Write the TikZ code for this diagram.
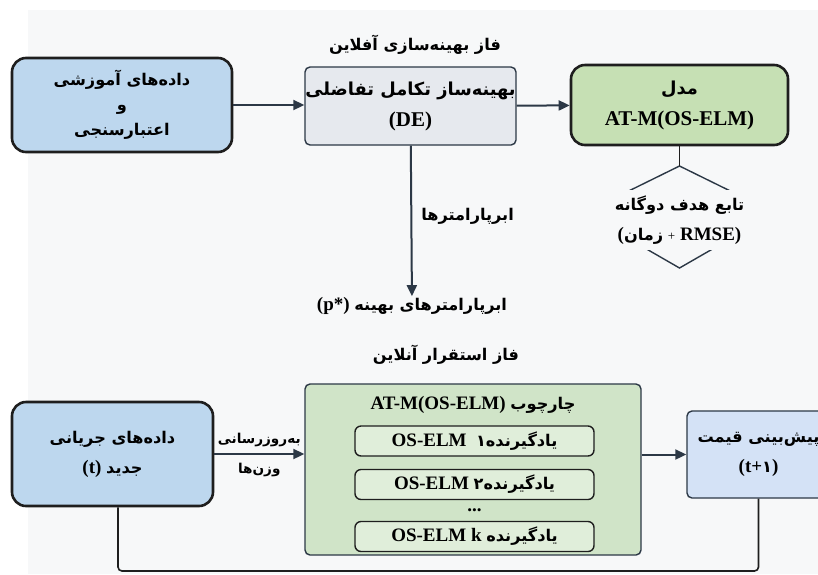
\documentclass[tikz,border=0pt]{standalone}
\usepackage{fontspec}
\setmainfont{Liberation Serif}
\newfontfamily\fa[Script=Arabic,Scale=0.85]{DejaVu Sans}
\TeXXeTstate=1
\usetikzlibrary{arrows.meta}
\definecolor{bgc}{HTML}{F7F8F9}
\definecolor{bluec}{HTML}{BDD7EE}
\definecolor{greyc}{HTML}{E6E9EE}
\definecolor{greenc}{HTML}{C6E0B4}
\definecolor{framec}{HTML}{D0E4C8}
\definecolor{learnc}{HTML}{E0EEDA}
\definecolor{predc}{HTML}{D4E2F6}
\definecolor{linec}{HTML}{1E1E1E}
\definecolor{arrowc}{HTML}{2C3846}
\newcommand{\pers}[1]{{\fa\bfseries\beginR #1\endR}}
\begin{document}
\begin{tikzpicture}[x=1pt,y=-1pt,
  every node/.style={font=\bfseries\fontsize{19}{30}\selectfont},
  thickbox/.style={draw=linec,line width=2.6pt,rounded corners=14pt,align=center,inner sep=0pt},
  thinbox/.style={draw=arrowc,line width=1.4pt,rounded corners=5pt,align=center,inner sep=0pt},
  learner/.style={draw=linec,line width=1.4pt,rounded corners=6pt,fill=learnc,minimum width=239,minimum height=30,inner sep=0pt},
  flow/.style={draw=arrowc,line width=2pt,-{Triangle[length=11pt,width=10pt]}},
  conn/.style={draw=linec,line width=1.6pt},
  txt/.style={align=center,inner sep=1pt}]
\useasboundingbox (0,0) rectangle (818,574);
\fill[white] (0,0) rectangle (818,574);
\fill[bgc] (28,10) rectangle (818,574);
\coordinate (fb) at (0,571);
% offline phase
\node[txt] (offtitle) at (415,45) {\pers{فاز بهینه‌سازی آفلاین}};
\node[thickbox,fill=bluec,minimum width=220,minimum height=94,
      font=\bfseries\fontsize{19}{25}\selectfont] (train) at (122,105)
      {\pers{داده‌های آموزشی}\\\pers{و}\\\pers{اعتبارسنجی}};
\node[thinbox,fill=greyc,minimum width=211,minimum height=78,
      font=\bfseries\fontsize{21}{31}\selectfont] (de) at (410.5,106)
      {\pers{بهینه‌ساز تکامل تفاضلی}\\(DE)};
\node[thickbox,fill=greenc,minimum width=217,minimum height=80,
      font=\bfseries\fontsize{21}{31}\selectfont] (model) at (679.5,105)
      {\pers{مدل}\\AT-M(OS-ELM)};
\coordinate (objtop) at (679.5,166);
\draw[draw=arrowc,line width=1.4pt] (objtop) -- (775,213) -- (679.5,268) -- (584,213) -- cycle;
\node[txt,fill=bgc,minimum width=204,minimum height=60] (objtxt) at (679.5,220)
      {\pers{تابع هدف دوگانه}\\({\fa\bfseries زمان} {\normalfont\fontsize{13}{13}\selectfont+} RMSE)};
\node[txt] (opt) at (412,306) {(p*) \pers{ابرپارامترهای بهینه}};
\draw[flow] (train.east) -- (train.east -| de.west);
\draw[flow] (de) -- (model);
\draw[conn] (model) -- (objtop);
\draw[flow] (de) -- node[pos=0.47,right=8pt,txt]{\pers{ابرپارامترها}} (opt);
% online phase
\node[txt] (ontitle) at (446,355) {\pers{فاز استقرار آنلاین}};
\node[thickbox,fill=bluec,minimum width=201,minimum height=104] (stream) at (112.5,454)
      {\pers{داده‌های جریانی}\\(t) \pers{جدید}};
\node[thinbox,fill=framec,minimum width=336,minimum height=171] (frame) at (473,469.5) {};
\node[txt] (frametitle) at (473,405) {AT-M(OS-ELM) \pers{چارچوب}};
\node[learner] (l1) at (474.5,441) {OS-ELM\ \ {\fa\bfseries یادگیرنده۱}};
\node[learner] (l2) at (474.5,484.5) {OS-ELM {\fa\bfseries یادگیرنده۲}};
\node[txt] (dots) at (474.5,510) {...};
\node[learner] (lk) at (474.5,536.5) {OS-ELM k {\fa\bfseries یادگیرنده}};
\node[thinbox,fill=predc,minimum width=143,minimum height=87] (pred) at (758.5,454.5)
      {\pers{پیش‌بینی قیمت}\\(t+{\fa\bfseries ۱})};
\draw[flow] (stream.east) -- (stream.east -| frame.west)
      node[midway,above=3pt,font=\bfseries\fontsize{16}{16}\selectfont]{\pers{به‌روزرسانی}}
      node[midway,below=5pt,font=\bfseries\fontsize{16}{16}\selectfont]{\pers{وزن‌ها}};
\draw[flow] (frame.east |- pred) -- (pred.west);
\draw[conn,rounded corners=4pt] ([xshift=5.5pt]stream.south) |- (fb -| pred.south) -- (pred.south);
\end{tikzpicture}
\end{document}
